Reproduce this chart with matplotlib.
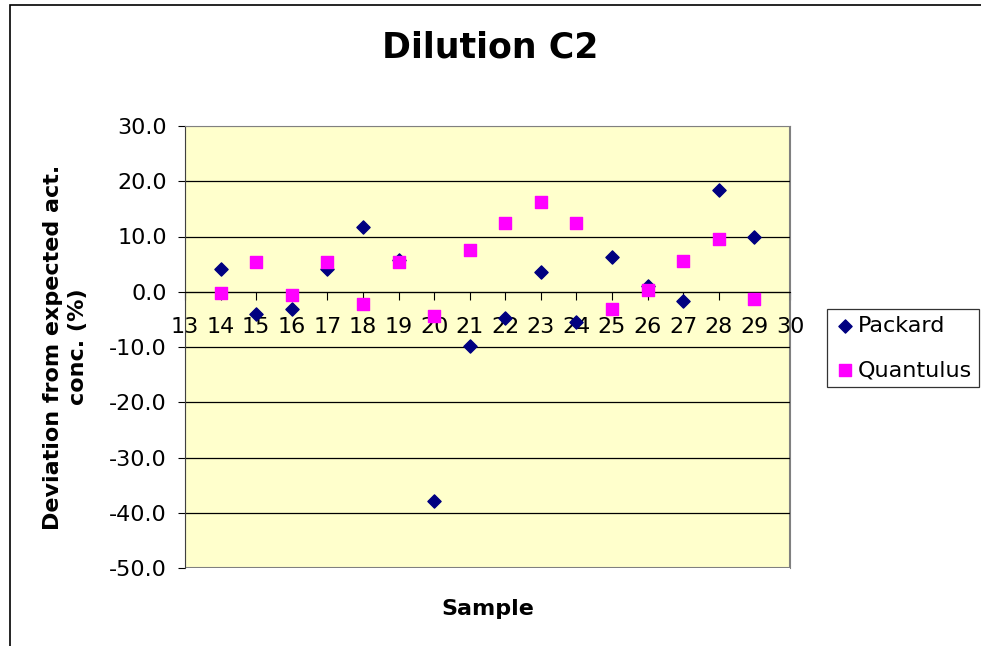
import matplotlib.pyplot as plt
from matplotlib.patches import Rectangle

samples = [14, 15, 16, 17, 18, 19, 20, 21, 22, 23, 24, 25, 26, 27, 28, 29]
packard = [4.2, -4.1, -3.1, 4.1, 11.7, 5.7, -37.9, -9.8, -4.8, 3.6, -5.4, 6.2, 1.1, -1.6, 18.4, 10.0]
quantulus = [-0.2, 5.3, -0.5, 5.3, -2.2, 5.3, -4.4, 7.5, 12.4, 16.2, 12.4, -3.1, 0.4, 5.6, 9.5, -1.3]

fig = plt.figure(figsize=(9.81, 6.46), dpi=100)
fig.patches.append(Rectangle((10/981, -0.1), 2, 1 - 5/646 + 0.1, transform=fig.transFigure,
                             fill=False, edgecolor='black', linewidth=1.2))

ax = fig.add_axes([185/981, 1 - 568/646, 605/981, 442/646])
ax.set_facecolor('#FFFFCC')

ax.scatter(samples, packard, marker='D', s=45, color='#000080', label='Packard', zorder=3)
ax.scatter(samples, quantulus, marker='s', s=80, color='#FF00FF', label='Quantulus', zorder=3)

for s in ['top', 'right']:
    ax.spines[s].set_color('#808080')
ax.spines['left'].set_color('#404040')
ax.spines['bottom'].set_position(('data', 0))
ax.spines['bottom'].set_color('black')
ax.add_patch(Rectangle((0, 0), 1, 1, transform=ax.transAxes, fill=False,
                       edgecolor='#808080', linewidth=1.5, zorder=0.5))

ax.set_xlim(13, 30)
ax.set_ylim(-50, 30)
ax.set_yticks(range(-50, 31, 10))
ax.set_yticklabels(['%.1f' % v for v in range(-50, 31, 10)])
ax.set_xticks(range(13, 31))
ax.set_xticklabels([str(v) for v in range(13, 31)])
ax.tick_params(axis='x', direction='out', length=6, pad=12, labelsize=16)
ax.tick_params(axis='y', direction='out', length=5, pad=8, labelsize=16)

for v in range(-40, 30, 10):
    ax.axhline(v, color='black', linewidth=0.9, zorder=1)

ax.set_xlabel('Sample', fontsize=16, fontweight='bold', labelpad=0)
ax.xaxis.set_label_coords(0.5, -0.07)
ax.set_ylabel('Deviation from expected act.\nconc. (%)', fontsize=16, fontweight='bold',
              linespacing=1.35)
ax.yaxis.set_label_coords(-0.16, 0.5)

fig.text(0.5, 1 - 48/646, 'Dilution C2', ha='center', va='center', fontsize=25, fontweight='bold')

leg = ax.legend(loc='upper left', bbox_to_anchor=(827/605 - 185/605, 1 - (309 - 126)/442),
                fontsize=16, frameon=True, fancybox=False, edgecolor='black',
                handletextpad=0.1, borderpad=0.3, labelspacing=1.1, handlelength=1.0,
                borderaxespad=0)
leg.get_frame().set_linewidth(0.9)

fig.savefig('out.png', dpi=100)
